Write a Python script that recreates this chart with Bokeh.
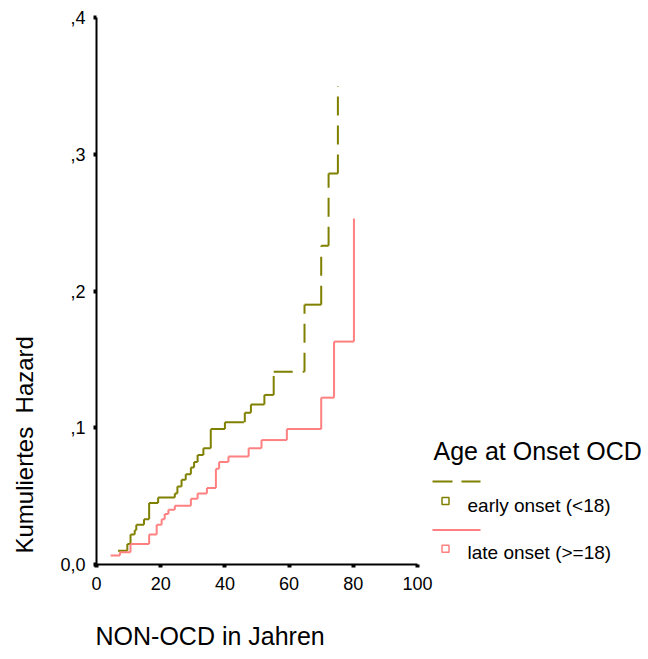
import math
from bokeh.plotting import figure
from bokeh.models import Range1d, FixedTicker, Label
from bokeh.embed import file_html
from bokeh.resources import INLINE

# ---------------- data ----------------
early_time = [6.7, 9.6, 10.6, 11.9, 12.4, 14.8, 16.4, 19.2, 24.4, 25.2, 26.5, 27.8,
              29.4, 30.4, 31.5, 33.3, 35.6, 40.0, 46.2, 48.1, 52.3, 55.2, 64.8,
              70.0, 72.3, 75.2]
early_hazard = [0.010, 0.015, 0.022, 0.025, 0.029, 0.033, 0.045, 0.049, 0.052, 0.057,
                0.062, 0.066, 0.071, 0.075, 0.080, 0.085, 0.099, 0.104, 0.111, 0.117,
                0.124, 0.141, 0.190, 0.233, 0.286, 0.350]

late_time = [4.4, 7.3, 10.6, 16.4, 18.75, 20.3, 21.25, 22.4, 24.4, 29.4, 31.5, 34.4,
             37.2, 38.2, 41.1, 47.4, 51.4, 59.3, 70.0, 74.0, 80.2]
late_hazard = [0.0066, 0.009, 0.015, 0.022, 0.029, 0.033, 0.037, 0.040, 0.043, 0.048,
               0.052, 0.056, 0.070, 0.075, 0.079, 0.085, 0.091, 0.099, 0.122, 0.163,
               0.253]

x_ticks = [0, 20, 40, 60, 80, 100]
y_ticks = [0.0, 0.1, 0.2, 0.3, 0.4]
y_tick_labels = ["0,0", ",1", ",2", ",3", ",4"]
series_names = ["early onset (<18)", "late onset (>=18)"]
legend_title = "Age at Onset OCD"
x_title = "NON-OCD in Jahren"
y_title = "Kumuliertes\u00a0 Hazard"

# ---------------- style / layout ----------------
OLIVE = "#808000"
PINK = "#ff8080"
FONT = "Liberation Sans"
W, H = 648, 659
X0_PX, Y0_PX = 96, 564       # canvas pixel of the data origin
PX_PER_X = 3.21              # pixels per x unit
PX_PER_Y = 547 / 0.4         # pixels per y unit


def dx(px):   # canvas px -> data x
    return (px - X0_PX) / PX_PER_X


def dy(py):   # canvas px -> data y
    return (Y0_PX - py) / PX_PER_Y


p = figure(width=W, height=H, x_range=Range1d(dx(0), dx(W)), y_range=Range1d(dy(H), dy(0)),
           output_backend="svg", toolbar_location=None,
           min_border_left=0, min_border_right=0, min_border_top=0, min_border_bottom=0)
p.outline_line_color = None
p.grid.visible = False
p.background_fill_color = "white"
p.border_fill_color = "white"

for ax in (p.xaxis[0], p.yaxis[0]):
    ax.fixed_location = 0
    ax.axis_line_color = "black"
    ax.axis_line_width = 2
    ax.major_tick_line_color = "black"
    ax.major_tick_line_width = 4
    ax.major_tick_out = 3
    ax.major_tick_in = 0
    ax.minor_tick_line_color = None
    ax.major_label_text_font = FONT
    ax.major_label_text_font_size = "18px"
    ax.major_label_text_color = "black"

p.xaxis[0].ticker = FixedTicker(ticks=x_ticks)
p.xaxis[0].bounds = (0, 100)
p.xaxis[0].major_label_standoff = 9
p.yaxis[0].ticker = FixedTicker(ticks=y_ticks)
p.yaxis[0].bounds = (0, 0.4)
p.yaxis[0].major_label_overrides = {t: s for t, s in zip(y_ticks, y_tick_labels)}
p.yaxis[0].major_label_standoff = 8


def step_segments(t, h):
    x0, y0, x1, y1 = [], [], [], []
    for i in range(len(t) - 1):
        x0.append(t[i]); y0.append(h[i]); x1.append(t[i + 1]); y1.append(h[i])
        x0.append(t[i + 1]); y0.append(h[i]); x1.append(t[i + 1]); y1.append(h[i + 1])
    return x0, y0, x1, y1


ex0, ey0, ex1, ey1 = step_segments(early_time, early_hazard)
p.segment(x0=ex0, y0=ey0, x1=ex1, y1=ey1, line_color=OLIVE, line_width=2,
          line_dash="19 10", line_cap="butt")

lx0, ly0, lx1, ly1 = step_segments(late_time, late_hazard)
p.segment(x0=lx0, y0=ly0, x1=lx1, y1=ly1, line_color=PINK, line_width=2,
          line_cap="butt")

# ---------------- legend (drawn by hand, SPSS style) ----------------
p.add_layout(Label(x=dx(433), y=dy(450), text=legend_title, text_font=FONT,
                   text_font_size="25px", text_baseline="alphabetic", text_color="black"))

p.segment(x0=[dx(432)], y0=[dy(481)], x1=[dx(480)], y1=[dy(481)], line_color=OLIVE,
          line_width=2, line_dash="20 9", line_cap="butt")
p.scatter(x=[dx(445)], y=[dy(500.5)], marker="square", size=7, fill_color=None,
          line_color=OLIVE, line_width=1.5)
p.add_layout(Label(x=dx(467), y=dy(505), text=series_names[0], text_font=FONT,
                   text_font_size="19px", text_baseline="alphabetic", text_color="black"))

p.segment(x0=[dx(432)], y0=[dy(529.5)], x1=[dx(480)], y1=[dy(529.5)], line_color=PINK,
          line_width=2, line_cap="butt")
p.scatter(x=[dx(445)], y=[dy(548.3)], marker="square", size=7, fill_color=None,
          line_color=PINK, line_width=1.5)
p.add_layout(Label(x=dx(467), y=dy(552), text=series_names[1], text_font=FONT,
                   text_font_size="19px", text_baseline="alphabetic", text_color="black"))

# ---------------- axis titles ----------------
p.add_layout(Label(x=dx(95), y=dy(635), text=x_title, text_font=FONT,
                   text_font_size="25px", text_baseline="alphabetic", text_color="black"))
p.add_layout(Label(x=dx(24), y=dy(553), text=y_title, text_font=FONT,
                   text_font_size="24px", text_baseline="alphabetic", angle=math.pi / 2,
                   text_color="black"))

open("out.html", "w").write(file_html(p, INLINE))
